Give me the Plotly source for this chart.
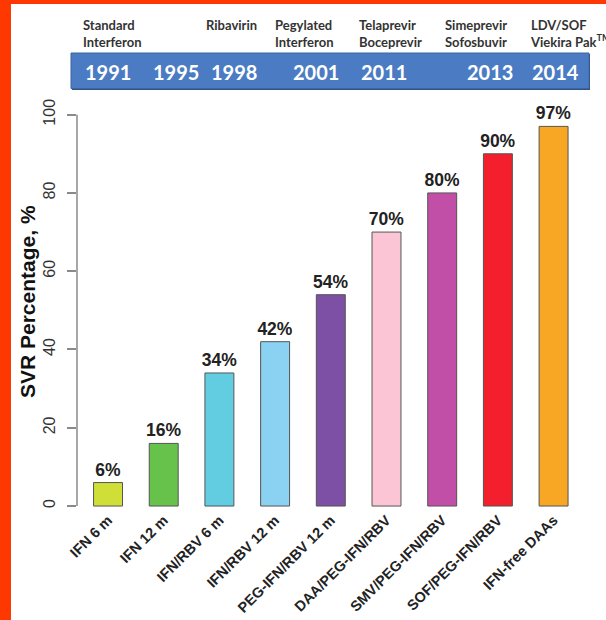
import plotly.graph_objects as go

categories = ["IFN 6 m", "IFN 12 m", "IFN/RBV 6 m", "IFN/RBV 12 m", "PEG-IFN/RBV 12 m",
              "DAA/PEG-IFN/RBV", "SMV/PEG-IFN/RBV", "SOF/PEG-IFN/RBV", "IFN-free DAAs"]
svr_values = [6, 16, 34, 42, 54, 70, 80, 90, 97]
bar_colors = ["#cfdf38", "#66c24b", "#62cde1", "#8bd1f1", "#7d4fa5",
              "#fcc5d6", "#c14fa7", "#f41f2c", "#f8a724"]
years = ["1991", "1995", "1998", "2001", "2011", "2013", "2014"]
drug_labels = ["Standard<br>Interferon", "Ribavirin", "Pegylated<br>Interferon",
               "Telaprevir<br>Boceprevir", "Simeprevir<br>Sofosbuvir", "LDV/SOF<br>Viekira Pak<sup>TM</sup>"]
y_ticks = [0, 20, 40, 60, 80, 100]

W, H = 606, 620
L, T = 77, 99
PW, PH = 510, 409
B = H - T - PH
R = W - L - PW

def px(x):
    return (x - L) / PW

def py(y):
    return (T + PH - y) / PH

fig = go.Figure()
fig.add_trace(go.Bar(
    x=categories, y=svr_values,
    marker=dict(color=bar_colors, line=dict(color="#555555", width=1)),
    width=0.52,
    text=[f"{v}%" for v in svr_values],
    textposition="outside",
    constraintext="none",
    textfont=dict(family="Liberation Sans", size=17.5, color="#222222", weight="bold"),
    cliponaxis=False,
))

shapes = []
# orange border strips
shapes.append(dict(type="rect", xref="paper", yref="paper", x0=px(0), x1=px(11), y0=py(H), y1=py(0),
                   fillcolor="#ff3700", line=dict(width=0), layer="below"))
shapes.append(dict(type="rect", xref="paper", yref="paper", x0=px(0), x1=px(W), y0=py(4), y1=py(0),
                   fillcolor="#ff3700", line=dict(width=0), layer="below"))
# banner shadow and banner
shapes.append(dict(type="rect", xref="paper", yref="paper", x0=px(72), x1=px(590), y0=py(90), y1=py(54),
                   fillcolor="#2f5587", line=dict(width=0)))
shapes.append(dict(type="rect", xref="paper", yref="paper", x0=px(71), x1=px(589), y0=py(88.5), y1=py(53),
                   fillcolor="#4b7cc3", line=dict(color="#3b64a0", width=1)))
# y axis line from 0 to 100
shapes.append(dict(type="line", xref="paper", yref="y", x0=0, x1=0, y0=0, y1=100,
                   line=dict(color="#8a8a8a", width=1.5)))

annotations = []
year_x = [108, 176, 234, 316, 384, 490, 555]
for yr, xx in zip(years, year_x):
    annotations.append(dict(xref="paper", yref="paper", x=px(xx), y=py(72), text=yr, showarrow=False,
                            xanchor="center", yanchor="middle",
                            font=dict(family="Lato", size=20, color="white", weight="bold")))
label_x = [81, 204, 273, 357, 443, 528]
for lab, xx in zip(drug_labels, label_x):
    annotations.append(dict(xref="paper", yref="paper", x=px(xx), y=py(15), text=lab, showarrow=False,
                            xanchor="left", yanchor="top", align="left",
                            font=dict(family="Lato", size=13, color="#333333", weight="bold")))
annotations.append(dict(xref="paper", yref="paper", x=px(27), y=py(302), text="SVR Percentage, %",
                        textangle=-90, showarrow=False, xanchor="center", yanchor="middle",
                        font=dict(family="Liberation Sans", size=21, color="#111111", weight="bold")))

fig.update_layout(
    width=W, height=H,
    margin=dict(l=L, r=R, t=T, b=B, pad=0, autoexpand=False),
    paper_bgcolor="white", plot_bgcolor="white",
    showlegend=False,
    shapes=shapes, annotations=annotations,
    xaxis=dict(range=[-0.557, 8.6], tickangle=-45, showgrid=False, zeroline=False, showline=False,
               automargin=False, ticks="",
               tickfont=dict(family="Liberation Sans", size=14.5, color="#222222", weight="bold")),
    yaxis=dict(range=[-0.5, 104], tickvals=y_ticks, ticktext=[str(v) for v in y_ticks], tickangle=-90,
               showgrid=False, zeroline=False, showline=False, automargin=False,
               ticks="outside", ticklen=9,
               tickcolor="#8a8a8a", tickwidth=1.5, ticklabelstandoff=6,
               tickfont=dict(family="Liberation Sans", size=16, color="#333333")),
)

fig.write_html("out.html", config={"displayModeBar": False},
               post_script="document.body.style.margin='0';document.body.style.overflow='hidden';")
